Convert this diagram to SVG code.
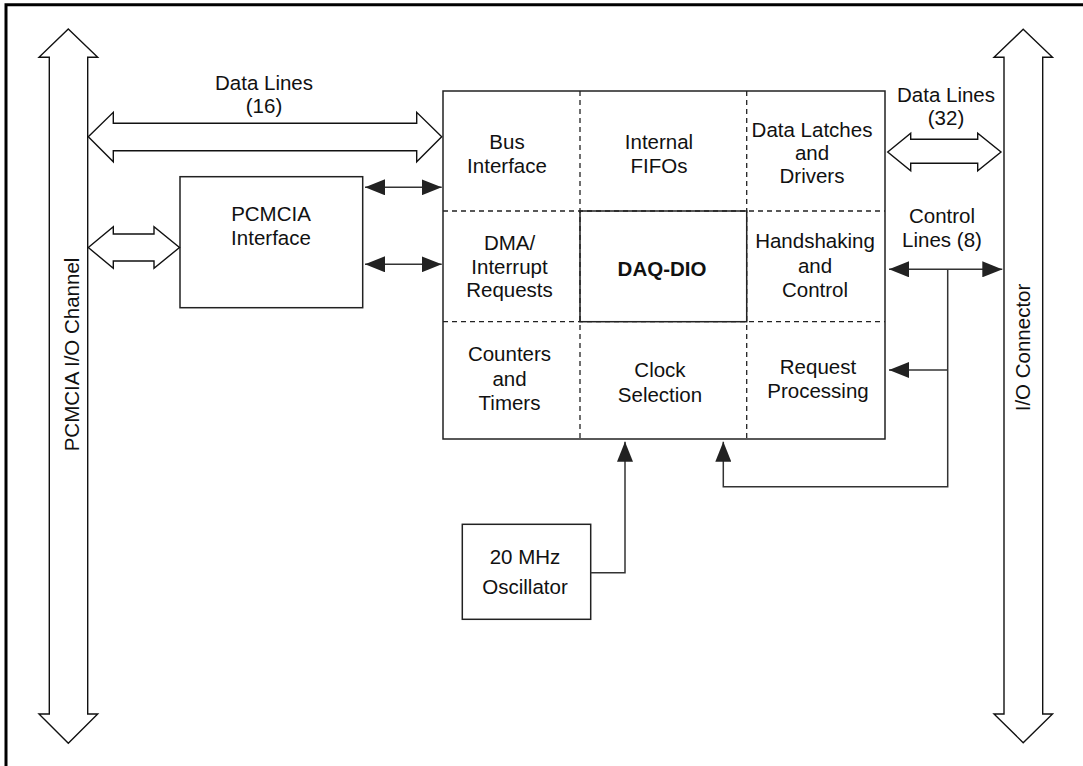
<svg xmlns="http://www.w3.org/2000/svg" width="1083" height="766" viewBox="0 0 1083 766">
<style>
text{font-family:"Liberation Sans",Arial,Helvetica,sans-serif;font-size:20.5px;fill:#111;text-anchor:middle}
.b{font-weight:bold}
.box{fill:#fff;stroke:#222;stroke-width:1.5}
.bus{fill:#fff;stroke:#111;stroke-width:1.4;stroke-linejoin:miter}
.dash{stroke:#222;stroke-width:1.3;stroke-dasharray:5,4;fill:none}
.wire{stroke:#333;stroke-width:1.5;fill:none}
</style>
<defs>
<marker id="ah" viewBox="0 0 20 16" refX="20" refY="8" markerWidth="20" markerHeight="16" markerUnits="userSpaceOnUse" orient="auto-start-reverse">
<path d="M0,0 L20,8 L0,16 z" fill="#222"/>
</marker>
</defs>
<rect width="1083" height="766" fill="#fff"/>
<path d="M6,766 V4.7 H1083" fill="none" stroke="#000" stroke-width="3"/>

<g id="pcmcia-channel">
<polygon class="bus" points="68.3,29 97.7,57.3 87.7,57.3 87.7,714 97.7,714 68.3,743.3 39,714 49.3,714 49.3,57.3 39,57.3"/>
<text transform="translate(78.5,354.5) rotate(-90)">PCMCIA I/O Channel</text>
</g>
<g id="io-connector">
<polygon class="bus" points="1023.2,29.3 1052.5,57.3 1042.7,57.3 1042.7,714 1052.5,714 1023.2,742.7 994,714 1004,714 1004,57.3 994,57.3"/>
<text transform="translate(1029.5,347.5) rotate(-90)">I/O Connector</text>
</g>

<g id="pcmcia-interface">
<rect class="box" x="180" y="176.7" width="182.7" height="131"/>
<text x="271" y="221">PCMCIA</text>
<text x="271" y="245">Interface</text>
</g>

<g id="daq-dio">
<rect class="box" x="443" y="91" width="442" height="348"/>
<line class="dash" x1="580" y1="91" x2="580" y2="439"/>
<line class="dash" x1="746.7" y1="91" x2="746.7" y2="439"/>
<line class="dash" x1="443" y1="211" x2="885" y2="211"/>
<line class="dash" x1="443" y1="321.7" x2="885" y2="321.7"/>
<rect x="580" y="211" width="166.7" height="110.7" fill="none" stroke="#222" stroke-width="1.5"/>
<text x="507" y="148.5">Bus</text>
<text x="507" y="172.5">Interface</text>
<text x="659" y="148.5">Internal</text>
<text x="659" y="172.5">FIFOs</text>
<text x="812" y="136.5">Data Latches</text>
<text x="812" y="159.5">and</text>
<text x="812" y="183">Drivers</text>
<text x="509.5" y="250">DMA/</text>
<text x="509.5" y="273.5">Interrupt</text>
<text x="509.5" y="297">Requests</text>
<text class="b" x="662" y="276">DAQ-DIO</text>
<text x="815" y="248">Handshaking</text>
<text x="815" y="272.5">and</text>
<text x="815" y="297">Control</text>
<text x="509.5" y="361">Counters</text>
<text x="509.5" y="385.5">and</text>
<text x="509.5" y="410">Timers</text>
<text x="660" y="377">Clock</text>
<text x="660" y="402">Selection</text>
<text x="818" y="373.5">Request</text>
<text x="818" y="398">Processing</text>
</g>

<g id="oscillator">
<rect class="box" x="462.3" y="524.3" width="128.4" height="95"/>
<text x="525" y="564">20 MHz</text>
<text x="525" y="594">Oscillator</text>
</g>

<g id="connectors">
<polygon class="bus" points="88.3,136.7 113.3,112.3 113.3,123.3 416.7,123.3 416.7,112.3 441.7,136.7 416.7,161.7 416.7,150.7 113.3,150.7 113.3,161.7"/>
<text x="264" y="90">Data Lines</text>
<text x="264" y="113">(16)</text>
<polygon class="bus" points="88.3,247.5 113.3,226.7 113.3,234 154,234 154,226.7 179.5,247.5 154,268.3 154,261 113.3,261 113.3,268.3"/>
<polygon class="bus" points="887.7,152 910.7,133.3 910.7,139.3 977.7,139.3 977.7,133.3 1001,152 977.7,170.7 977.7,163.3 910.7,163.3 910.7,170.7"/>
<text x="946" y="102">Data Lines</text>
<text x="946" y="124.5">(32)</text>
<line class="wire" x1="365" y1="187.3" x2="441.7" y2="187.3" marker-start="url(#ah)" marker-end="url(#ah)"/>
<line class="wire" x1="365" y1="264.3" x2="441.7" y2="264.3" marker-start="url(#ah)" marker-end="url(#ah)"/>
<line class="wire" x1="889" y1="269.3" x2="1002.3" y2="269.3" marker-start="url(#ah)" marker-end="url(#ah)"/>
<text x="942" y="223">Control</text>
<text x="942" y="246.5">Lines (8)</text>
<line class="wire" x1="947.7" y1="370" x2="889" y2="370" marker-end="url(#ah)"/>
<polyline class="wire" points="947.7,269.3 947.7,486.7 723.3,486.7 723.3,441.7" marker-end="url(#ah)"/>
<polyline class="wire" points="590.7,572.7 625,572.7 625,441.7" marker-end="url(#ah)"/>
</g>
</svg>
